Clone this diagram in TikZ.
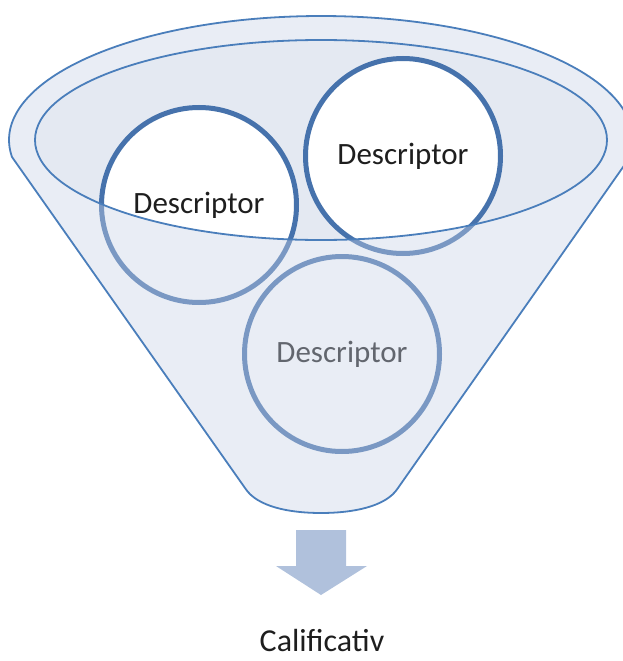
\documentclass[tikz,border=0pt]{standalone}
\usepackage{fontspec}
\setmainfont{Carlito}
\definecolor{funline}{RGB}{74,126,187}
\definecolor{mouthfill}{RGB}{228,233,242}
\definecolor{overlayc}{RGB}{200,210,230}
\definecolor{circline}{RGB}{70,114,172}
\definecolor{arrowc}{RGB}{176,193,220}
\definecolor{txt}{RGB}{30,30,30}
\tikzset{
  desc/.style={circle, minimum size=195pt, inner sep=0pt, fill=white, draw=circline, line width=5pt, font=\fontsize{31}{37}\selectfont, text=txt},
  funnelline/.style={draw=funline, line width=1.8pt},
}
\begin{document}
\begin{tikzpicture}[x=1pt,y=-1pt]
\useasboundingbox (0,0) rectangle (623,661);
% mouth fill
\fill[mouthfill] (321,140) ellipse [x radius=286pt, y radius=100pt];
% circles
\node[desc] (d1) at (199,205) {Descriptor};
\node[desc] (d2) at (403,156) {Descriptor};
\node[desc] (d3) at (342,354) {Descriptor};
% translucent funnel body (outside mouth)
\fill[overlayc, fill opacity=0.4, even odd rule]
  (12,157) arc[start angle=187.88, end angle=-7.88, x radius=312pt, y radius=124pt]
  -- (398,488) .. controls (386,507) and (352,513) .. (321,513)
  .. controls (290,513) and (257,507) .. (245,488) -- cycle
  (321,140) ellipse [x radius=286pt, y radius=100pt];
% outlines
\draw[funnelline, line join=round]
  (12,157) arc[start angle=187.88, end angle=-7.88, x radius=312pt, y radius=124pt]
  -- (398,488) .. controls (386,507) and (352,513) .. (321,513)
  .. controls (290,513) and (257,507) .. (245,488) -- cycle;
\draw[funnelline] (321,140) ellipse [x radius=286pt, y radius=100pt];
% arrow
\fill[arrowc] (296,530) -- (346,530) -- (346,566) -- (367,566) -- (321,595) -- (276,566) -- (296,566) -- cycle;
\node[anchor=base, font=\fontsize{32}{38}\selectfont, inner sep=0pt, text=txt] (res) at (322,651) {Calificativ};
\end{tikzpicture}
\end{document}
